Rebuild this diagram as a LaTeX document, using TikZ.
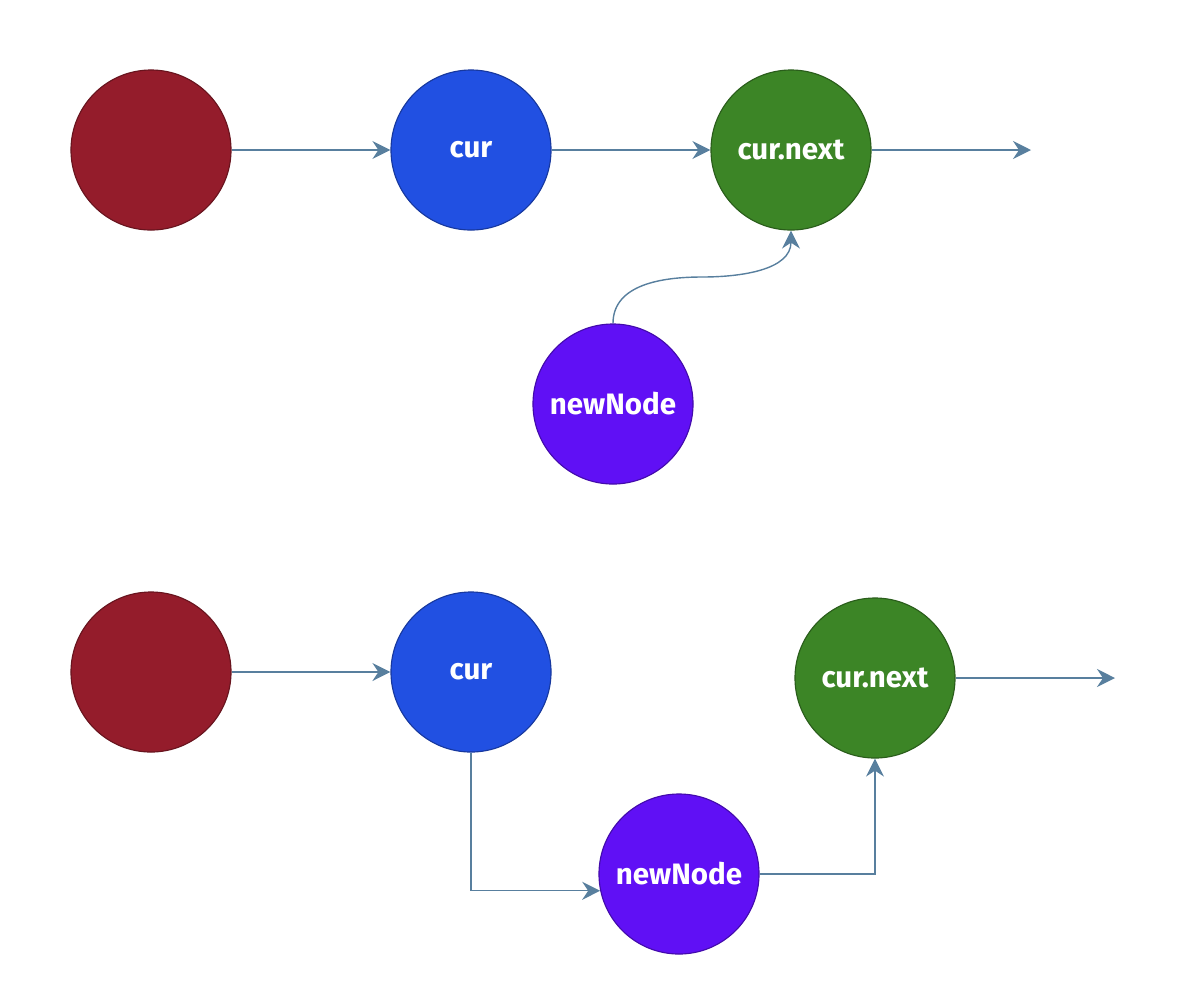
\documentclass[tikz,border=0pt]{standalone}
\usepackage{fontspec}
\setmainfont{Fira Sans}
\usetikzlibrary{arrows.meta}
\definecolor{nodered}{HTML}{941C2B}
\definecolor{nodeblue}{HTML}{2150E2}
\definecolor{nodegreen}{HTML}{3C8526}
\definecolor{nodepurple}{HTML}{6010F5}
\definecolor{linkcol}{HTML}{587F9E}
\tikzset{
  listnode/.style={draw, circle, minimum size=4cm, inner sep=0pt, line width=0.8pt,
    text=white, font=\fontsize{21}{25}\selectfont\bfseries},
  link/.style={draw=linkcol, line width=1pt,
    -{Stealth[length=0.45cm, width=0.45cm, inset=0.15cm]}}
}
\begin{document}
\begin{tikzpicture}[x=0.025cm, y=-0.025cm]
            \useasboundingbox (0,0) rectangle (1178,996);
            % Before insertion
            \node[listnode, fill=nodered, draw=nodered!70!black] (head1) at (151,150) {};
            \node[listnode, fill=nodeblue, draw=nodeblue!70!black] (cur1) at (471,150) {cur};
            \node[listnode, fill=nodegreen, draw=nodegreen!70!black] (next1) at (791,150) {cur.next};
            \node[listnode, fill=nodepurple, draw=nodepurple!70!black] (new1) at (613,404) {newNode};
            \coordinate (tail1) at (1031,150);
            \coordinate (bend1) at (702,277);

            \draw[link] (head1) -- (cur1);
            \draw[link] (cur1) -- (next1);
            \draw[link] (next1) -- (tail1);
            \draw[link] (new1.north) to[out=90,in=180] (bend1) to[out=0,in=-90] (next1.south);

            % After insertion
            \node[listnode, fill=nodered, draw=nodered!70!black] (head2) at (151,672) {};
            \node[listnode, fill=nodeblue, draw=nodeblue!70!black] (cur2) at (471,672) {cur};
            \node[listnode, fill=nodegreen, draw=nodegreen!70!black] (next2) at (875,678) {cur.next};
            \node[listnode, fill=nodepurple, draw=nodepurple!70!black] (new2) at (679,874) {newNode};
            \coordinate (tail2) at (1115,678);

            \draw[link] (head2) -- (cur2);
            \draw[link] (cur2.south) |- (new2.192);
            \draw[link] (new2.east) -| (next2.south);
            \draw[link] (next2) -- (tail2);
        \end{tikzpicture}
\end{document}
